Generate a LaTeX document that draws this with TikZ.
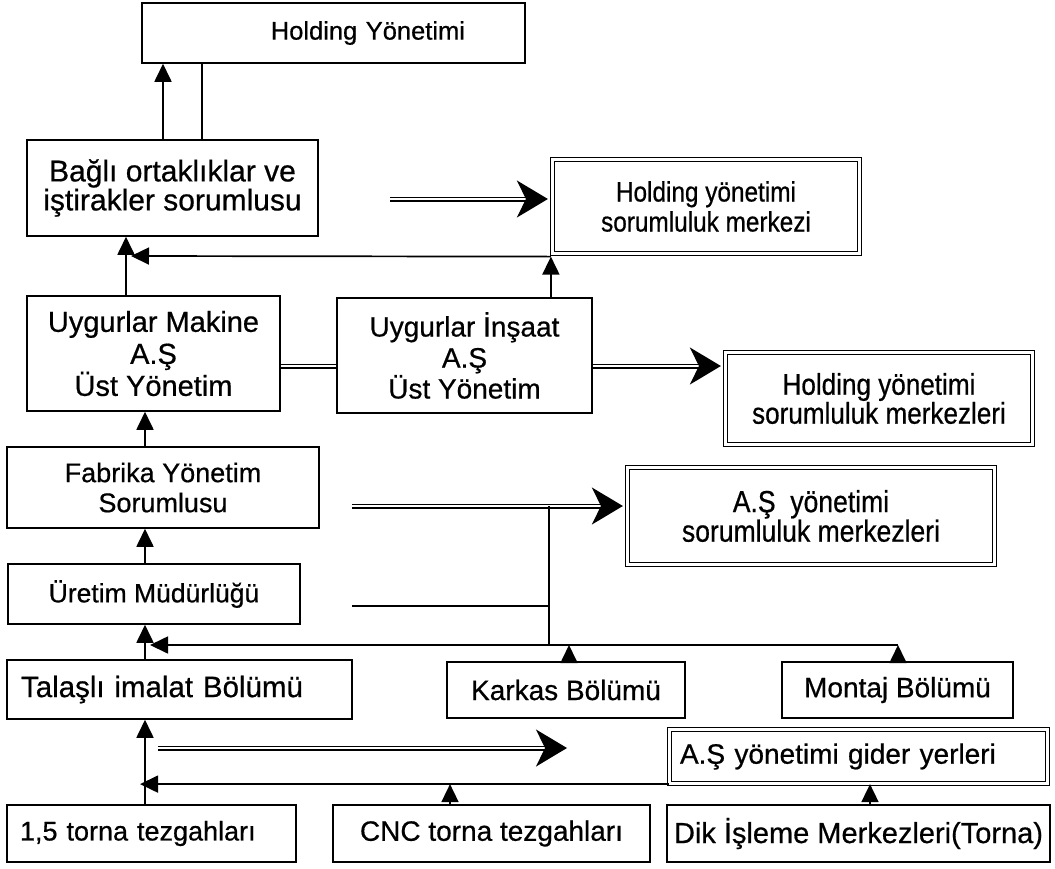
\documentclass[tikz,border=0pt]{standalone}
\usepackage{fontspec}
\setmainfont{Liberation Sans}[FakeBold=0.6]
\newfontfamily\nfont{Liberation Sans}[FakeStretch=0.87,FakeBold=0.6]
\usetikzlibrary{arrows.meta,calc}
\newcommand\fsz[2]{\fontsize{#1}{#2}\selectfont}
\begin{document}
\begin{tikzpicture}[x=1pt,y=-1pt,
  box/.style={draw, line width=1.5pt, inner sep=0pt, align=center, font=\fsz{28}{31}},
  dbox/.style={box, double, double distance=2.6pt, line width=1.2pt},
  ln/.style={line width=1.7pt},
  arr/.style={ln, -{Triangle[length=18pt,width=17pt]}},
  dl/.style={line width=1.3pt, double, double distance=2.4pt},
  bigtip/.style={line width=1.4pt, -{Stealth[length=31pt,width=37pt,inset=9pt]}}
]
\fill[white] (0,0) rectangle (1055,868);
\useasboundingbox (0,0) rectangle (1055,868);

% boxes
\node[box, minimum width=383pt, minimum height=60pt, text width=263pt, align=right, font=\fsz{25.5}{28}] (HY) at (333.5,33) {Holding Yönetimi};
\node[box, minimum width=291pt, minimum height=96pt, font=\fsz{30}{29}] (BO) at (172.5,188) {Bağlı ortaklıklar ve\\iştirakler sorumlusu};
\node[dbox, minimum width=307pt, minimum height=94pt, font=\nfont\fsz{28}{30}] (HM1) at (706,206.5) {Holding yönetimi\\sorumluluk merkezi};
\node[box, minimum width=253pt, minimum height=115pt, font=\fsz{29}{32}] (UM) at (153.5,353.5) {Uygurlar Makine\\A.Ş\\Üst Yönetim};
\node[box, minimum width=255pt, minimum height=115pt, font=\fsz{28}{31}] (UI) at (464.5,355.5) {Uygurlar İnşaat\\A.Ş\\Üst Yönetim};
\node[dbox, minimum width=307pt, minimum height=92pt, font=\nfont\fsz{30}{27}] (HM2) at (879,398.5) {Holding yönetimi\\sorumluluk merkezleri};
\node[box, minimum width=312pt, minimum height=81pt, font=\fsz{27}{30}] (FY) at (163,487.5) {Fabrika Yönetim\\Sorumlusu};
\node[dbox, minimum width=367pt, minimum height=97pt, font=\nfont\fsz{30.5}{26}] (AM) at (811,516) {A.Ş\ \ yönetimi\\sorumluluk merkezleri};
\node[box, minimum width=292pt, minimum height=60pt, font=\fsz{26.5}{30}] (UR) at (154,594) {Üretim Müdürlüğü};
\node[box, minimum width=345pt, minimum height=59pt, text width=317pt, align=left, font=\fsz{29.5}{32}] (TI) at (179.5,689.5) {Talaşlı imalat Bölümü};
\node[box, minimum width=238pt, minimum height=56pt] (KB) at (566,690) {Karkas Bölümü};
\node[box, minimum width=231pt, minimum height=56pt] (MB) at (897.5,690) {Montaj Bölümü};
\node[dbox, minimum width=378pt, minimum height=54pt, text width=357pt, align=left] (AG) at (858.5,756.5) {A.Ş yönetimi gider yerleri};
\node[box, minimum width=289pt, minimum height=57pt, text width=263pt, align=left, font=\fsz{27}{31}] (P15) at (151.5,833.5) {1,5 torna tezgahları};
\node[box, minimum width=317pt, minimum height=57pt] (CNC) at (491.5,833.5) {CNC torna tezgahları};
\node[box, minimum width=383pt, minimum height=57pt, font=\fsz{29}{32}] (DK) at (858.5,833.5) {Dik İşleme Merkezleri(Torna)};

% columns of the vertical connectors
\coordinate (x126) at (126,0);
\coordinate (x145) at (145,0);
\coordinate (x163) at (163,0);
\coordinate (x202) at (202,0);
\coordinate (x450) at (450,0);
\coordinate (x569) at (569,0);
\coordinate (x870) at (870,0);

% holding level
\draw[arr] (BO.north -| x163) -- (HY.south -| x163);
\draw[ln] (BO.north -| x202) -- (HY.south -| x202);
\coordinate (d1s) at (390,199);
\coordinate (d1e) at ($(HM1.west |- d1s)+(-4,0)$);
\draw[dl] (d1s) -- ($(d1e)+(-16,0)$);
\draw[bigtip] ($(d1e)+(-20,0)$) -- (d1e);

\coordinate (j1) at ($(HM1.south west)+(-1,2.5)$);
\coordinate (h1e) at (131,256);
\draw[arr] (UI.north -| j1) -- (j1);
\draw[arr] (j1) -- (h1e);
\draw[arr] (UM.north -| x126) -- (BO.south -| x126);

% company level
\coordinate (y366) at (0,366);
\draw[dl] (UM.east |- y366) -- (UI.west |- y366);
\coordinate (d3e) at ($(HM2.west |- y366)+(-4,0)$);
\draw[dl] (UI.east |- y366) -- ($(d3e)+(-16,0)$);
\draw[bigtip] ($(d3e)+(-20,0)$) -- (d3e);
\draw[arr] (FY.north -| x145) -- (UM.south -| x145);

% factory level
\coordinate (d4s) at (352,506);
\coordinate (d4e) at ($(AM.west |- d4s)+(-4,0)$);
\draw[dl] (d4s) -- ($(d4e)+(-16,0)$);
\draw[bigtip] ($(d4e)+(-20,0)$) -- (d4e);
\coordinate (v1t) at (549,506);
\coordinate (v1b) at (549,645);
\draw[ln] (v1t) -- (v1b);
\coordinate (s1s) at (352,606);
\draw[ln] (s1s) -- (v1t |- s1s);
\draw[arr] (UR.north -| x145) -- (FY.south -| x145);

% departments
\coordinate (h2r) at (898,645);
\coordinate (h2e) at (150,645);
\draw[arr] (h2r) -- (h2e);
\draw[arr] (KB.north -| x569) -- (x569 |- h2r);
\draw[arr] (MB.north -| h2r) -- (h2r);
\draw[arr] (TI.north -| x145) -- (UR.south -| x145);

% machine level
\draw[arr] (P15.north -| x145) -- (TI.south -| x145);
\coordinate (d5s) at (158,748);
\coordinate (d5e) at (567,748);
\draw[dl] (d5s) -- ($(d5e)+(-16,0)$);
\draw[bigtip] ($(d5e)+(-20,0)$) -- (d5e);
\coordinate (h3e) at (140,0);
\draw[arr] (AG.south west) -- (AG.south west -| h3e);
\draw[arr] (CNC.north -| x450) -- (x450 |- AG.south);
\draw[arr] (DK.north -| x870) -- (AG.south -| x870);
\end{tikzpicture}
\end{document}
